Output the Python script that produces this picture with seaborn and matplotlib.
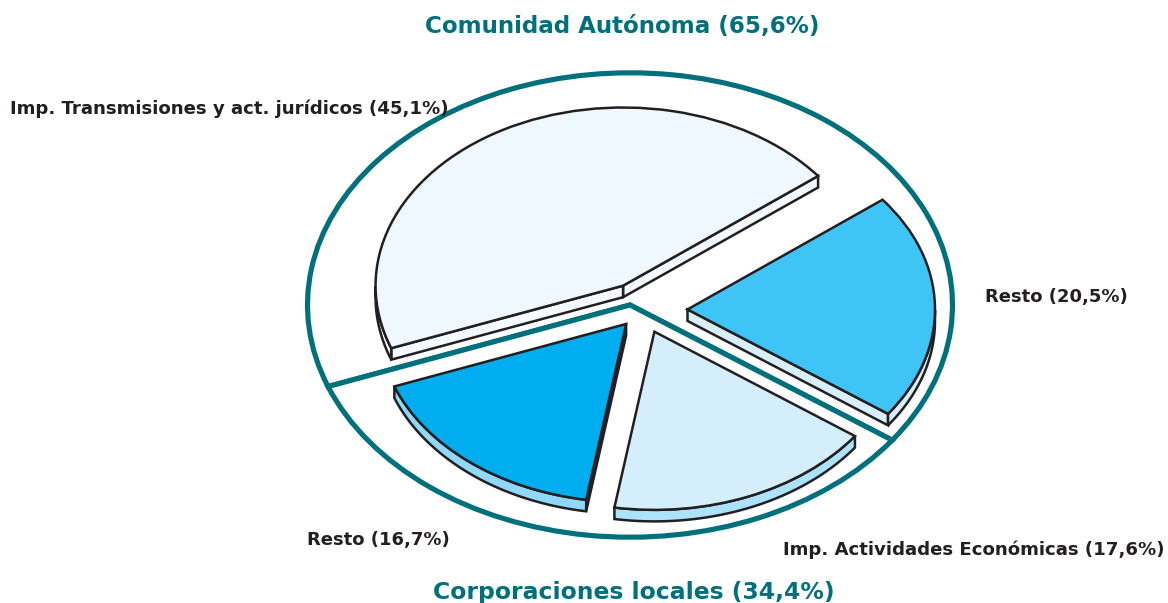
import numpy as np
import matplotlib
matplotlib.use("Agg")
import matplotlib.pyplot as plt
import seaborn as sns

sns.set_theme(style="white")
plt.rcParams['font.family'] = ['DejaVu Sans']

# Data
groups = ['Comunidad Autónoma', 'Corporaciones locales']
group_values = [65.6, 34.4]
slices = ['Imp. Transmisiones y act. jurídicos', 'Resto', 'Imp. Actividades Económicas', 'Resto']
slice_values = [45.1, 16.7, 17.6, 20.5]

# Colours
TEAL = '#00707c'
INK = '#231f20'
top_colors = ['#eef8fe', '#00adef', '#d5eefb', '#3ec5f5']
side_colors = ['#f3f9fe', '#8fd8fb', '#ace3fc', '#d6effb']
edge_colors = ['#f3f9fe', INK, '#d5eefb', '#d6effb']

W, H = 1168, 603
SX, SY = 250.0, 180.0   # pixels per data unit, the squash gives the tilted look
CX, CY = 630, 305
DEPTH = 11.5 / SY

explode = [0.155, 0.10, 0.13, 0.182]
center = (0.048, -0.028)
radius = 0.99


def pct(name, value):
    return f"{name} ({str(value).replace('.', ',')}%)"


def rim(wedge, angle):
    a = np.radians(angle)
    return (wedge.center[0] + wedge.r * np.cos(a), wedge.center[1] + wedge.r * np.sin(a))


def draw_sides(ax, wedge, face, edge_face):
    """Extrude the parts of a slice that look down."""
    t1, t2 = wedge.theta1, wedge.theta2
    kw = dict(edgecolor=INK, linewidth=1.8, zorder=2, joinstyle='miter')
    # straight sides
    for th, visible in ((t1, np.cos(np.radians(t1)) > 0), (t2, np.cos(np.radians(t2)) < 0)):
        if visible:
            x, y = rim(wedge, th)
            cx, cy = wedge.center
            ax.fill([cx, x, x, cx], [cy, y, y - DEPTH, cy - DEPTH], facecolor=edge_face, **kw)
    # curved side, only where the rim faces down
    angles = np.linspace(t1, t2, 200)
    angles = angles[np.sin(np.radians(angles)) < 0]
    if len(angles):
        xs, ys = zip(*[rim(wedge, a) for a in angles])
        xs, ys = np.array(xs), np.array(ys)
        ax.fill(np.r_[xs, xs[::-1]], np.r_[ys, ys[::-1] - DEPTH], facecolor=face, **kw)


fig = plt.figure(figsize=(W / 100, H / 100), dpi=100)
ax = fig.add_axes([0, 0, 1, 1])

# outer ring split in the two groups
ax.pie(group_values, startangle=-35.6, radius=1.29, colors=['white', 'white'],
       wedgeprops={'edgecolor': TEAL, 'linewidth': 3.7, 'joinstyle': 'miter'})

# top faces
tops, _ = ax.pie(slice_values, startangle=38, explode=explode, radius=radius,
                 center=center, colors=top_colors,
                 wedgeprops={'edgecolor': INK, 'linewidth': 1.8, 'joinstyle': 'miter'})
for w, side, edge_face in zip(tops, side_colors, edge_colors):
    w.set_zorder(3)
    draw_sides(ax, w, side, edge_face)

ax.set_aspect('auto')
ax.set_xlim(-CX / SX, (W - CX) / SX)
ax.set_ylim(-(H - CY) / SY, CY / SY)
ax.axis('off')


def label(x, y, txt, color=INK, size=13.0, ha='left'):
    fig.text(x / W, 1 - y / H, txt, color=color, fontsize=size, fontweight='bold',
             ha=ha, va='center', zorder=5)


label(622, 27, pct(groups[0], group_values[0]), TEAL, 16.6, 'center')
label(634, 592, pct(groups[1], group_values[1]), TEAL, 16.9, 'center')
label(10, 109, pct(slices[0], slice_values[0]), size=13.1)
label(985, 297, pct(slices[1], slice_values[3]))
label(783, 550, pct(slices[2], slice_values[2]), size=13.05)
label(307, 540, pct(slices[3], slice_values[1]))

fig.savefig('out.png', dpi=100, facecolor='white')
